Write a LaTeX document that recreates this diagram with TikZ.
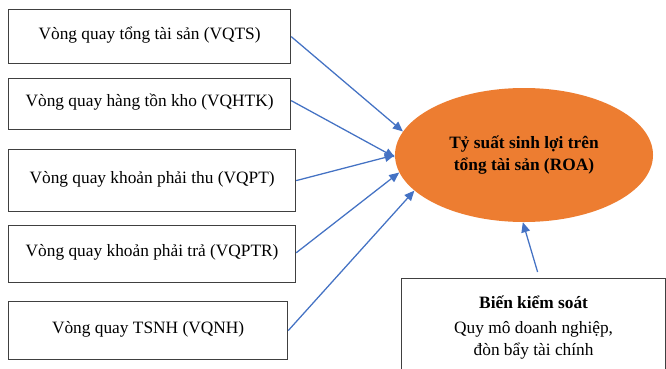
\documentclass[tikz,border=0pt]{standalone}
\usepackage{fontspec}
\setmainfont{Liberation Serif}
\usetikzlibrary{shapes.geometric,arrows.meta}
\definecolor{boxgray}{HTML}{404040}
\definecolor{arrblue}{HTML}{4472C4}
\definecolor{roaorange}{HTML}{ED7D31}
\begin{document}
\begin{tikzpicture}[x=0.75pt,y=-0.75pt,
  frame/.style={draw=boxgray,line width=0.9pt,inner sep=0pt,anchor=north west,
    font=\fontsize{13}{16}\selectfont,align=center},
  box/.style={frame,text height=10pt,text depth=6pt},
  arr/.style={draw=arrblue,line width=0.95pt,-{Triangle[length=7.5pt,width=6.5pt]}}]
\useasboundingbox (0,0) rectangle (666,368);
\clip (0,0) rectangle (666,368);
\fill[white] (0,0) rectangle (666,368);
\node[box,minimum width=211.5pt,minimum height=40.5pt] (b1) at (8,9) {Vòng quay tổng tài sản (VQTS)};
\node[box,minimum width=211.5pt,minimum height=38.25pt] (b2) at (8,78) {Vòng quay hàng tồn kho (VQHTK)};
\node[box,minimum width=215.25pt,minimum height=46.5pt] (b3) at (8,149) {Vòng quay khoản phải thu (VQPT)};
\node[box,minimum width=215.25pt,minimum height=42.75pt] (b4) at (8,225) {Vòng quay khoản phải trả (VQPTR)};
\node[box,minimum width=209.25pt,minimum height=43.5pt] (b5) at (8,301) {Vòng quay TSNH (VQNH)};
\node[ellipse,fill=roaorange,inner sep=0pt,minimum width=193.5pt,minimum height=100.5pt,
  font=\fontsize{13}{17}\selectfont\bfseries,align=center] (roa) at (524,155)
  {\raisebox{-2pt}{}Tỷ suất sinh lợi trên\\tổng tài sản (ROA)};
\node[frame,minimum width=198pt,minimum height=73pt] (ctrl) at (401,278)
  {\textbf{Biến kiểm soát}\\[3pt]Quy mô doanh nghiệp,\\đòn bẩy tài chính};
\draw[arr] (b1.east) -- (roa.169.6);
\draw[arr] ([yshift=2.6pt]b2.east) -- (roa.181);
\draw[arr] (b3.east) -- (roa.180);
\draw[arr] ([yshift=1pt]b4.east) -- (roa.188);
\draw[arr] (b5.east) -- (roa.198.6);
\draw[arr] ([xshift=3pt,yshift=4.5pt]ctrl.north) -- (roa.269);
\end{tikzpicture}
\end{document}
